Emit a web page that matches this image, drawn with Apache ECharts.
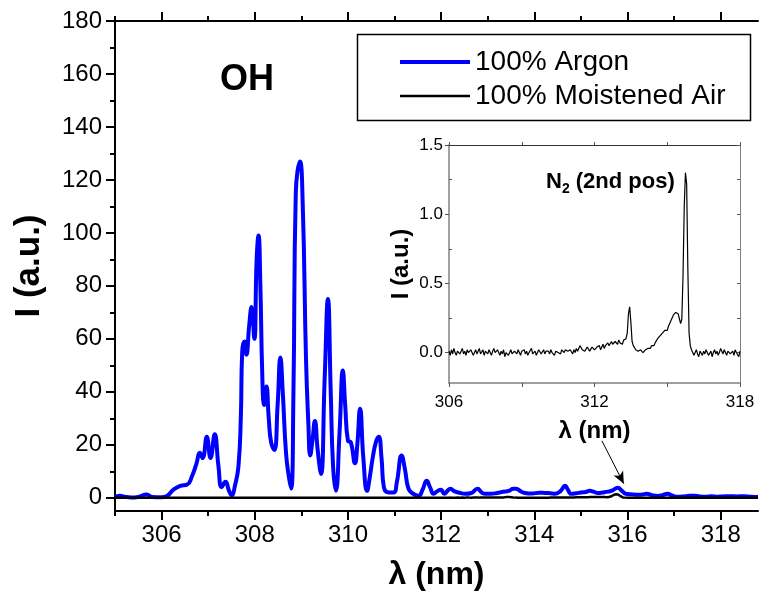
<!DOCTYPE html>
<html>
<head>
<meta charset="utf-8">
<script src="https://cdn.jsdelivr.net/npm/echarts@6/dist/echarts.min.js"></script>
<style>
  html, body { margin: 0; padding: 0; background: #fff; }
  #chart { width: 761px; height: 592px; }
</style>
</head>
<body>
<div id="chart"></div>
<script>
// 100% Argon: wavelength (nm) / intensity (a.u.)
var argonLambda = [
  305.00, 305.10, 305.20, 305.35, 305.50, 305.68, 305.80, 306.00, 306.10, 306.25,
  306.40, 306.55, 306.65, 306.75, 306.82, 306.88, 306.97, 307.05, 307.14, 307.22,
  307.29, 307.37, 307.45, 307.50, 307.58, 307.65, 307.70, 307.73, 307.78, 307.82,
  307.88, 307.93, 307.99, 308.04, 308.08, 308.12, 308.16, 308.20, 308.25, 308.30,
  308.35, 308.42, 308.49, 308.55, 308.60, 308.67, 308.73, 308.78, 308.83, 308.88,
  308.97, 309.03, 309.10, 309.15, 309.19, 309.24, 309.29, 309.35, 309.42, 309.50,
  309.57, 309.63, 309.68, 309.74, 309.82, 309.89, 309.94, 310.00, 310.06, 310.15,
  310.20, 310.26, 310.33, 310.41, 310.47, 310.53, 310.60, 310.66, 310.72, 310.77,
  310.88, 310.98, 311.05, 311.15, 311.22, 311.30, 311.40, 311.52, 311.60, 311.69,
  311.76, 311.84, 311.92, 311.99, 312.07, 312.13, 312.20, 312.28, 312.37, 312.52,
  312.65, 312.78, 312.87, 312.95, 313.06, 313.20, 313.33, 313.45, 313.55, 313.61,
  313.70, 313.80, 313.95, 314.10, 314.23, 314.35, 314.44, 314.56, 314.66, 314.72,
  314.79, 314.90, 315.00, 315.10, 315.19, 315.28, 315.36, 315.47, 315.58, 315.68,
  315.79, 315.88, 315.96, 316.08, 316.22, 316.32, 316.41, 316.52, 316.65, 316.75,
  316.86, 316.95, 317.07, 317.20, 317.30, 317.43, 317.55, 317.68, 317.80, 317.93,
  318.05, 318.20, 318.35, 318.50, 318.65, 318.80
];
var argonI = [
  0.3, 0.8, 0.4, 0.1, 0.3, 1.2, 0.3, 0.2, 0.5, 3,
  4.5, 5, 8, 13, 17, 15, 23, 15, 24, 12,
  4, 6, 2.5, 1, 5, 12, 30, 55, 59, 54,
  65, 72, 60, 90, 99, 80, 47, 35, 42, 30,
  21, 18, 35, 53, 40, 17, 8, 3.5, 40, 115,
  127, 110, 52, 28, 16, 22, 29, 18, 9, 45,
  75, 40, 12, 2.6, 25, 48, 35, 21.5, 21, 13,
  20, 33.6, 15, 2.6, 8, 15, 21, 23, 15, 4,
  2, 2, 6, 16, 11, 3.4, 1.5, 0.8, 3, 6.4,
  4, 1.5, 2.5, 3, 1.5, 2.5, 3.4, 2.5, 2, 1.5,
  1.8, 3.4, 2, 1.5, 1.5, 1.8, 2.3, 2.6, 3.4, 3.4,
  2.5, 1.8, 1.6, 1.9, 1.8, 1.7, 1.5, 2.5, 4.5, 3,
  1.5, 1.7, 2, 2.2, 2.6, 2.2, 1.8, 2, 2.3, 2.8,
  3.8, 2.6, 1.5, 1.3, 1.1, 1.2, 1.5, 1, 0.7, 1,
  1.5, 0.9, 0.4, 0.5, 0.7, 0.8, 0.5, 0.4, 0.6, 0.4,
  0.5, 0.6, 0.5, 0.6, 0.4, 0.3
];

// 100% Moistened Air (inset), sampled every 0.05 nm from 306 to 318
var airStart = 306;
var airStep = 0.05;
var airI = [
  // 306.00 - 308.00
  0.01, -0.02, 0.02, -0.01, 0.03, 0.00, -0.02, 0.01, 0.02, -0.01,
  0.00, 0.03, -0.01, 0.01, -0.02, 0.02, 0.00, -0.01, 0.02, 0.01,
  -0.02, 0.00, 0.02, -0.01, 0.01, 0.03, -0.01, 0.00, 0.02, -0.02,
  0.01, 0.00, -0.01, 0.02, 0.01, -0.02, 0.01, 0.03, 0.00, -0.01,
  0.02,
  // 308.05 - 310.00
  0.00, -0.02, 0.01, -0.01, 0.02, -0.03, 0.00, 0.01, -0.02, 0.00,
  0.02, -0.01, -0.02, 0.01, 0.00, -0.01, 0.02, 0.00, -0.02, 0.01,
  0.00, 0.02, -0.01, 0.01, -0.02, 0.00, 0.01, 0.03, -0.01, 0.00,
  0.01, -0.02, 0.00, 0.02, 0.01, -0.01, 0.00, 0.02, -0.01, 0.01,
  // 310.05 - 312.00
  0.00, 0.01, -0.01, 0.02, 0.00, 0.01, -0.02, 0.01, 0.02, 0.00,
  0.01, -0.01, 0.02, 0.01, 0.00, 0.02, 0.03, 0.01, 0.00, 0.02,
  0.01, -0.01, 0.02, 0.00, 0.03, 0.01, 0.02, 0.05, 0.04, 0.02,
  0.03, 0.01, 0.02, 0.04, 0.03, 0.01, 0.02, 0.04, 0.03, 0.02,
  // 312.05 - 313.30
  0.02, 0.04, 0.03, 0.05, 0.02, 0.04, 0.06, 0.03, 0.05, 0.04,
  0.07, 0.05, 0.04, 0.08, 0.06, 0.05, 0.08, 0.07, 0.06, 0.09,
  0.07, 0.08, 0.06, 0.09, 0.08, 0.10,
  // 313.35 - 313.60
  0.14, 0.28, 0.33, 0.22, 0.08, 0.05,
  // 313.65 - 314.50
  0.04, 0.02, 0.03, 0.01, 0.00, 0.02, 0.01, 0.00, 0.01, 0.02,
  0.02, 0.03, 0.04, 0.03, 0.05, 0.06, 0.05, 0.07,
  // 314.55 - 315.60
  0.08, 0.10, 0.09, 0.12, 0.11, 0.14, 0.13, 0.16, 0.17, 0.16,
  0.19, 0.21, 0.22, 0.25, 0.27, 0.26, 0.29, 0.30, 0.28, 0.27,
  0.21, 0.24,
  // 315.65 - 316.00
  0.55, 1.05, 1.30, 1.22, 0.60, 0.14, 0.05, 0.02,
  // 316.05 - 318.00
  0.01, -0.02, 0.00, 0.02, -0.01, -0.03, 0.01, 0.00, -0.02, 0.01,
  -0.01, 0.02, 0.00, -0.02, -0.01, 0.01, -0.03, 0.00, 0.02, -0.01,
  0.01, -0.02, 0.00, 0.03, 0.01, -0.01, 0.02, 0.00, -0.02, 0.01,
  0.02, -0.01, 0.00, 0.01, -0.02, 0.02, 0.00, -0.01, -0.03, 0.01
];

// main axis ticks
var mainXMajor = [306, 308, 310, 312, 314, 316, 318];
var mainXMinor = [305, 307, 309, 311, 313, 315, 317];
var mainYMajor = [0, 20, 40, 60, 80, 100, 120, 140, 160, 180];
var mainYMinor = [10, 30, 50, 70, 90, 110, 130, 150, 170];
// inset axis ticks
var insetXTicks = [306, 309, 312, 315, 318];
var insetXLabels = [306, 312, 318];
var insetYMajor = [0, 0.5, 1, 1.5];
var insetYMinor = [0.25, 0.75, 1.25];
var insetYRight = [0, 0.25, 0.5, 0.75, 1, 1.25, 1.5];

// annotation arrow (data coords)
var arrowFrom = [315.45, 21.5];
var arrowTo = [315.92, 5.3];

var FONT = "'Liberation Sans', Arial, sans-serif";

var argonData = [];
for (var i = 0; i < argonLambda.length; i++) {
    argonData.push([argonLambda[i], argonI[i]]);
}
var airInset = [];
for (var j = 0; j < airI.length; j++) {
    airInset.push([+(airStart + j * airStep).toFixed(2), airI[j]]);
}
// same measurement on the big scale, flat outside 306-318
var airMain = [[305, 0]].concat(airInset).concat([[318.8, 0]]);

function tickAxis(cfg) {
    var a = {
        type: 'value',
        gridIndex: cfg.grid,
        position: cfg.position,
        offset: 0,
        min: cfg.min,
        max: cfg.max,
        splitLine: {show: false},
        axisLine: {show: cfg.line !== false, onZero: false,
            lineStyle: {color: cfg.lineColor || '#000', width: cfg.lineWidth || 2}},
        axisTick: {show: true, inside: !!cfg.inside, length: cfg.tickLen,
            customValues: cfg.ticks,
            lineStyle: {color: cfg.tickColor || '#000', width: cfg.tickWidth || 2}},
        axisLabel: {show: !!cfg.labels}
    };
    if (cfg.labels) {
        a.axisLabel = {
            show: true,
            customValues: cfg.labels,
            margin: cfg.margin,
            color: '#000',
            fontFamily: FONT,
            fontSize: cfg.fontSize,
            formatter: cfg.formatter
        };
    }
    if (cfg.name) {
        a.name = cfg.name;
        a.nameLocation = 'middle';
        a.nameGap = cfg.nameGap;
        a.nameTextStyle = {color: '#000', fontFamily: FONT, fontWeight: 'bold', fontSize: cfg.nameSize};
    }
    return a;
}

var myChart = echarts.init(document.getElementById('chart'), null, {renderer: 'canvas'});

var option = {
    animation: false,
    backgroundColor: '#fff',
    grid: [
        {left: 115, top: 21, width: 643, height: 490, outerBoundsMode: 'none', containLabel: false},
        {left: 449, top: 145, width: 291, height: 238, outerBoundsMode: 'none', containLabel: false}
    ],
    xAxis: [
        tickAxis({grid: 0, position: 'bottom', min: 305, max: 318.8, ticks: mainXMajor, tickLen: 9,
            labels: mainXMajor, margin: 12, fontSize: 24, name: 'λ (nm)', nameGap: 48, nameSize: 32}),
        tickAxis({grid: 0, position: 'bottom', min: 305, max: 318.8, ticks: mainXMinor, tickLen: 5, line: false}),
        tickAxis({grid: 0, position: 'top', min: 305, max: 318.8, ticks: mainXMajor, tickLen: 9}),
        tickAxis({grid: 0, position: 'top', min: 305, max: 318.8, ticks: mainXMinor, tickLen: 5, line: false}),
        tickAxis({grid: 1, position: 'bottom', min: 306, max: 318, ticks: insetXTicks, tickLen: 4,
            lineColor: '#808080', lineWidth: 1.5, tickColor: '#555', tickWidth: 1,
            labels: insetXLabels, margin: 11, fontSize: 17, name: 'λ (nm)', nameGap: 36, nameSize: 24}),
        tickAxis({grid: 1, position: 'top', min: 306, max: 318, ticks: insetXTicks, tickLen: 3,
            lineColor: '#333', lineWidth: 1, tickColor: '#555', tickWidth: 1})
    ],
    yAxis: [
        tickAxis({grid: 0, position: 'left', min: -5, max: 180, ticks: mainYMajor, tickLen: 9,
            labels: mainYMajor, margin: 13, fontSize: 24, name: 'I (a.u.)', nameGap: 68, nameSize: 35}),
        tickAxis({grid: 0, position: 'left', min: -5, max: 180, ticks: mainYMinor, tickLen: 5, line: false}),
        tickAxis({grid: 1, position: 'left', min: -0.22, max: 1.5, ticks: insetYMajor, tickLen: 4,
            lineColor: '#808080', lineWidth: 1.5, tickColor: '#555', tickWidth: 1,
            labels: insetYMajor, margin: 6, fontSize: 17, name: 'I (a.u.)', nameGap: 36, nameSize: 24,
            formatter: function (v) { return v.toFixed(1); }}),
        tickAxis({grid: 1, position: 'left', min: -0.22, max: 1.5, ticks: insetYMinor, tickLen: 3,
            inside: true, line: false, tickColor: '#555', tickWidth: 1}),
        tickAxis({grid: 1, position: 'right', min: -0.22, max: 1.5, ticks: insetYRight, tickLen: 3,
            inside: true, lineColor: '#808080', lineWidth: 1, tickColor: '#555', tickWidth: 1})
    ],
    legend: {
        left: 393, top: 43,
        orient: 'vertical',
        itemWidth: 70, itemHeight: 28, itemGap: 6,
        itemStyle: {opacity: 0},
        lineStyle: {width: 'inherit'},
        textStyle: {color: '#000', fontFamily: FONT, fontSize: 28, lineHeight: 28},
        data: ['100% Argon', '100% Moistened Air']
    },
    graphic: [
        {type: 'rect', left: 355, top: 32, z: 0, silent: true,
            shape: {width: 393, height: 86}, style: {fill: 'none', stroke: '#000', lineWidth: 1.5}},
        {type: 'text', left: 220, top: 62, silent: true,
            style: {text: 'OH', fill: '#000', font: 'bold 36px ' + FONT}},
        {type: 'text', left: 546, top: 171, silent: true,
            style: {
                text: '{a|N}{s|2}{a| (2nd pos)}',
                rich: {
                    a: {fontFamily: FONT, fontWeight: 'bold', fontSize: 22, fill: '#000'},
                    s: {fontFamily: FONT, fontWeight: 'bold', fontSize: 14, fill: '#000', verticalAlign: 'bottom', padding: [14, 0, 0, 0]}
                }
            }}
    ],
    series: [
        {
            name: '100% Argon',
            type: 'line',
            xAxisIndex: 0, yAxisIndex: 0,
            data: argonData,
            smooth: 0.5,
            showSymbol: false, symbol: 'none',
            lineStyle: {color: '#0000ff', width: 4},
            itemStyle: {color: '#0000ff'},
            z: 2,
            markLine: {
                silent: true,
                symbol: ['none', 'arrow'],
                symbolSize: [8, 12],
                label: {show: false},
                lineStyle: {color: '#000', width: 1, type: 'solid'},
                data: [[{coord: arrowFrom}, {coord: arrowTo}]]
            }
        },
        {
            name: '100% Moistened Air',
            type: 'line',
            xAxisIndex: 0, yAxisIndex: 0,
            data: airMain,
            showSymbol: false, symbol: 'none',
            lineStyle: {color: '#000', width: 2.5},
            itemStyle: {color: '#000'},
            z: 3
        },
        {
            name: 'inset',
            type: 'line',
            xAxisIndex: 4, yAxisIndex: 2,
            data: airInset,
            showSymbol: false, symbol: 'none',
            lineStyle: {color: '#000', width: 1.2},
            itemStyle: {color: '#000'},
            z: 3
        }
    ]
};

myChart.setOption(option);
</script>
</body>
</html>
